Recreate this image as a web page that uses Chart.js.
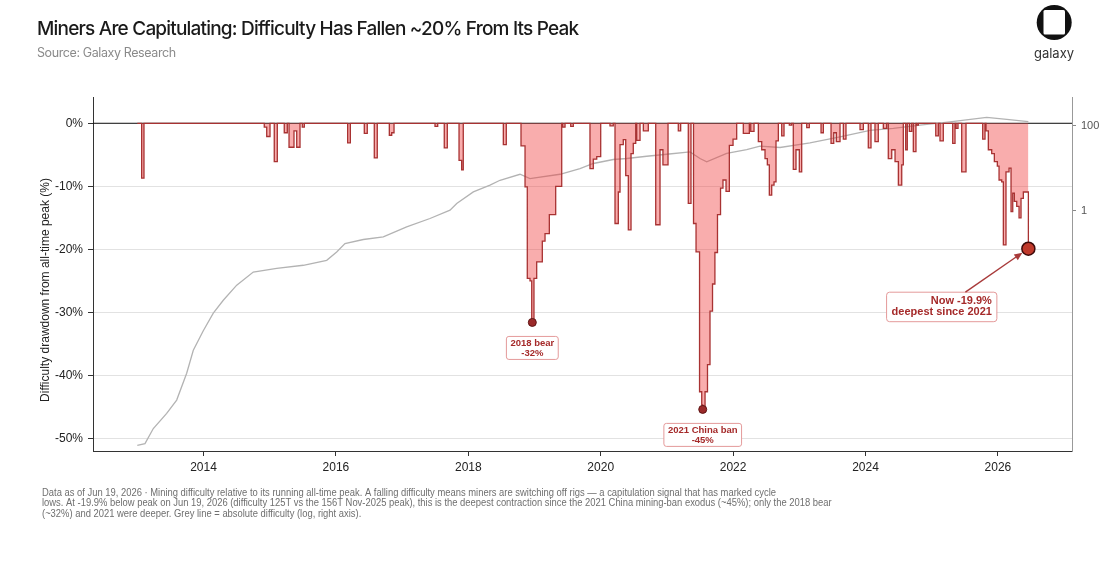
<!DOCTYPE html>
<html>
<head>
<meta charset="utf-8">
<script src="https://cdn.jsdelivr.net/npm/chart.js@4.4.1/dist/chart.umd.min.js"></script>
<style>
  html, body { margin: 0; padding: 0; background: #fff; }
  #wrap { width: 1100px; height: 576px; position: relative; }
</style>
</head>
<body>
<div id="wrap"><canvas id="chart"></canvas></div>
<script>
// drawdown from running all-time peak (%), step-post: each value holds until the next date
const ddYears = [
  2013.0, 2013.066, 2013.101,
  2014.918, 2014.955, 2015.005, 2015.069, 2015.115, 2015.22, 2015.266,
  2015.292, 2015.367, 2015.408, 2015.458, 2015.492, 2015.523,
  2016.178, 2016.218, 2016.429, 2016.474, 2016.58, 2016.625,
  2016.807, 2016.843, 2016.878,
  2017.497, 2017.538, 2017.637, 2017.683, 2017.86, 2017.9, 2017.924,
  2018.529, 2018.574,
  2018.796, 2018.857, 2018.891, 2018.932, 2018.958, 2018.992, 2019.033,
  2019.118, 2019.159, 2019.224, 2019.32, 2019.411,
  2019.426, 2019.461, 2019.547, 2019.586,
  2019.838, 2019.888, 2019.94, 2020.0,
  2020.14, 2020.19,
  2020.216, 2020.266, 2020.292, 2020.341, 2020.378, 2020.417, 2020.458, 2020.492, 2020.529,
  2020.544, 2020.594, 2020.644, 2020.719,
  2020.831, 2020.896, 2020.94, 2021.017,
  2021.172, 2021.208, 2021.323, 2021.364,
  2021.402, 2021.44, 2021.493, 2021.526, 2021.541, 2021.576, 2021.613, 2021.651,
  2021.689, 2021.725, 2021.764, 2021.81, 2021.847, 2021.893, 2021.943, 2021.999, 2022.054,
  2022.154, 2022.245, 2022.266, 2022.316,
  2022.381, 2022.432, 2022.482, 2022.517, 2022.547, 2022.583, 2022.618, 2022.648, 2022.683,
  2022.734, 2022.769, 2022.849, 2022.885,
  2022.909, 2022.95, 2023.0, 2023.036,
  2023.112, 2023.151, 2023.328, 2023.363,
  2023.479, 2023.52, 2023.559, 2023.615, 2023.665, 2023.705,
  2023.917, 2023.967, 2024.042, 2024.083, 2024.143, 2024.193, 2024.269, 2024.32,
  2024.344, 2024.396, 2024.446, 2024.496, 2024.547, 2024.571,
  2024.607, 2024.631, 2024.662, 2024.698, 2024.722, 2024.762, 2024.773, 2024.798,
  2025.061, 2025.1, 2025.125, 2025.175, 2025.317, 2025.352, 2025.367, 2025.397,
  2025.453, 2025.518, 2025.77, 2025.805,
  2025.82, 2025.855, 2025.906, 2025.946, 2025.991, 2026.017, 2026.057, 2026.082,
  2026.122, 2026.168, 2026.198, 2026.224, 2026.248, 2026.284, 2026.319, 2026.349,
  2026.384, 2026.46
];
const ddValues = [
  0, -8.7, 0,
  -0.6, -2.1, 0, -6.1, 0, -1.5, 0,
  -3.8, -1.2, -3.8, 0, -0.6, 0,
  -3.1, 0, -1.6, 0, -5.5, 0,
  -1.9, -1.5, 0,
  -0.5, 0, -3.9, 0, -5.9, -7.4, 0,
  -3.4, 0,
  -3.6, -10.1, -24.6, -25.0, -31.6, -24.6, -22.0,
  -18.7, -17.5, -14.5, -10.0, 0,
  -0.6, 0, -0.5, 0,
  -7.2, -5.7, -5.3, 0,
  -0.4, 0,
  -15.9, -10.9, -3.4, -2.6, -8.3, -16.9, -4.8, -3.2, 0,
  -2.7, 0, -1.2, 0,
  -16.1, -4.2, -6.6, 0,
  -1.2, 0, -12.7, 0,
  -15.9, -20.4, -42.6, -44.7, -45.4, -42.6, -38.3, -29.8,
  -25.5, -20.5, -14.5, -10.3, -9.0, -10.8, -3.5, -2.5, 0,
  -1.6, 0, -1.3, 0,
  -2.9, -4.2, -5.6, -6.6, -11.4, -9.8, -9.3, -2.8, 0,
  -2.0, 0, -0.3, 0,
  -7.3, -4.2, -7.7, 0,
  -0.7, 0, -1.5, 0,
  -3.2, -1.5, -2.9, 0, -2.5, 0,
  -1.0, 0, -3.9, 0, -2.9, 0, -0.8, 0,
  -5.6, -4.2, -6.1, -9.8, -6.6, 0,
  -4.2, 0, -1.3, 0, -4.5, 0, -0.3, 0,
  -2.0, 0, -2.8, 0, -3.2, 0, -0.8, 0,
  -7.7, 0, -2.5, 0,
  -1.2, -4.2, -4.8, -6.1, -6.8, -9.0, -9.3, -19.3,
  -7.7, -7.1, -14.0, -11.1, -12.4, -13.2, -15.0, -11.9,
  -10.9, -19.9
];

// absolute difficulty in T (right axis, log)
const diffYears = [
  2013.0, 2013.116, 2013.242, 2013.444, 2013.595, 2013.746, 2013.846, 2013.997,
  2014.148, 2014.299, 2014.502, 2014.752, 2015.106, 2015.508, 2015.861, 2016.012,
  2016.137, 2016.414, 2016.716, 2017.069, 2017.421, 2017.724, 2017.825, 2018.076,
  2018.328, 2018.479, 2018.781, 2018.932, 2019.033, 2019.385, 2019.687, 2019.888,
  2020.19, 2020.393, 2020.695, 2020.997, 2021.349, 2021.5, 2021.601, 2021.903,
  2022.205, 2022.406, 2022.708, 2023.161, 2023.614, 2024.068, 2024.42, 2024.823,
  2025.276, 2025.831, 2026.133, 2026.46
];
const diffValues = [
  3.0e-6, 3.3e-6, 7.5e-6, 1.7e-5, 3.5e-5, 1.5e-4, 5.2e-4, 1.5e-3,
  3.9e-3, 7.8e-3, 0.0177, 0.036, 0.044, 0.052, 0.068, 0.107,
  0.169, 0.21, 0.242, 0.416, 0.655, 1.03, 1.48, 2.77,
  4.0, 5.2, 7.2, 5.7, 6.0, 7.2, 9.8, 12.9,
  16.0, 16.9, 19.1, 21.3, 24.2, 16.9, 14.1, 22.2,
  27.5, 33, 30.7, 39.4, 54.5, 78, 86, 103,
  123, 156, 140, 125
];

const yearTicks = [2014, 2016, 2018, 2020, 2022, 2024, 2026];
const ddTicks = [0, -10, -20, -30, -40, -50];
const diffTicks = [1, 100];

// called-out troughs
const markerYears = [2018.967, 2021.541, 2026.46];
const markerValues = [-31.6, -45.4, -19.9];
const markerLabels = [['2018 bear', '-32%'], ['2021 China ban', '-45%'], ['Now -19.9%', 'deepest since 2021']];

const footLines = [
  'Data as of Jun 19, 2026 \u00b7 Mining difficulty relative to its running all-time peak. A falling difficulty means miners are switching off rigs \u2014 a capitulation signal that has marked cycle',
  'lows. At -19.9% below peak on Jun 19, 2026 (difficulty 125T vs the 156T Nov-2025 peak), this is the deepest contraction since the 2021 China mining-ban exodus (~45%); only the 2018 bear',
  '(~32%) and 2021 were deeper. Grey line = absolute difficulty (log, right axis).'
];

const RED_LINE = '#a83232';
const RED_FILL = 'rgba(240, 60, 60, 0.42)';
const LABEL_RED = '#a52a2a';

function roundBox(ctx, x, y, w, h, r) {
  ctx.beginPath();
  ctx.moveTo(x + r, y);
  ctx.arcTo(x + w, y, x + w, y + h, r);
  ctx.arcTo(x + w, y + h, x, y + h, r);
  ctx.arcTo(x, y + h, x, y, r);
  ctx.arcTo(x, y, x + w, y, r);
  ctx.closePath();
}

const extras = {
  id: 'extras',
  beforeDatasetsDraw(chart) {
    const { ctx, chartArea: a, scales } = chart;
    const y0 = scales.y.getPixelForValue(0);
    ctx.save();
    ctx.strokeStyle = '#111';
    ctx.lineWidth = 1;
    ctx.beginPath();
    ctx.moveTo(a.left, y0);
    ctx.lineTo(a.right, y0);
    ctx.stroke();
    ctx.restore();
  },
  afterDraw(chart) {
    const { ctx, scales } = chart;
    ctx.save();

    // title + source
    ctx.fillStyle = '#1a1a1a';
    ctx.font = '500 19px Inter';
    ctx.letterSpacing = '-0.8px';
    ctx.textAlign = 'left';
    ctx.textBaseline = 'alphabetic';
    ctx.fillText('Miners Are Capitulating: Difficulty Has Fallen ~20% From Its Peak', 37, 35);
    ctx.fillStyle = '#8a8a8a';
    ctx.font = '12.5px Inter';
    ctx.letterSpacing = '-0.4px';
    ctx.fillText('Source: Galaxy Research', 37, 57);
    ctx.letterSpacing = '0px';

    // logo
    ctx.fillStyle = '#111';
    ctx.beginPath();
    ctx.arc(1054.2, 22.5, 17.5, 0, Math.PI * 2);
    ctx.fill();
    ctx.fillStyle = '#fff';
    roundBox(ctx, 1043.5, 10, 21.5, 24.5, 1.5);
    ctx.fill();
    ctx.fillStyle = '#333';
    ctx.font = '13px Inter';
    ctx.textAlign = 'center';
    ctx.fillText('galaxy', 1054, 58);

    // y-axis title
    ctx.save();
    ctx.translate(46, 290);
    ctx.rotate(-Math.PI / 2);
    ctx.fillStyle = '#222';
    ctx.font = '12px "Liberation Sans"';
    ctx.textAlign = 'center';
    ctx.textBaseline = 'middle';
    ctx.fillText('Difficulty drawdown from all-time peak (%)', 0, 0);
    ctx.restore();

    // footnote, narrowed to the reference line length
    ctx.save();
    ctx.fillStyle = '#6f6f6f';
    ctx.font = '10px "Liberation Sans"';
    ctx.textAlign = 'left';
    ctx.textBaseline = 'alphabetic';
    const k = 734 / ctx.measureText(footLines[0]).width;
    ctx.translate(42, 0);
    ctx.scale(k, 1);
    footLines.forEach((t, i) => ctx.fillText(t, 0, 495.5 + i * 10.8));
    ctx.restore();

    // trough callouts
    const px = markerYears.map(v => scales.x.getPixelForValue(v));
    const py = markerValues.map(v => scales.y.getPixelForValue(v));
    ctx.lineWidth = 1;
    for (let i = 0; i < 2; i++) {
      ctx.font = 'bold 9.5px "Liberation Sans"';
      const w = Math.max(...markerLabels[i].map(t => ctx.measureText(t).width)) + 8;
      const top = py[i] + 14;
      roundBox(ctx, px[i] - w / 2, top, w, 23, 2.5);
      ctx.fillStyle = '#fff';
      ctx.fill();
      ctx.strokeStyle = '#e49a9a';
      ctx.stroke();
      ctx.fillStyle = LABEL_RED;
      ctx.textAlign = 'center';
      ctx.textBaseline = 'middle';
      markerLabels[i].forEach((t, j) => ctx.fillText(t, px[i], top + 6.5 + j * 10));
    }

    // "now" callout with arrow
    const nx = px[2], ny = py[2];
    ctx.font = 'bold 11px "Liberation Sans"';
    const lab = markerLabels[2];
    const w = Math.max(...lab.map(t => ctx.measureText(t).width)) + 10;
    const right = nx - 31.5, top = ny + 43.5, h = 29.5;
    roundBox(ctx, right - w, top, w, h, 3);
    ctx.fillStyle = '#fff';
    ctx.fill();
    ctx.strokeStyle = '#e49a9a';
    ctx.stroke();
    ctx.fillStyle = LABEL_RED;
    ctx.textAlign = 'right';
    ctx.textBaseline = 'middle';
    lab.forEach((t, j) => ctx.fillText(t, right - 5, top + 8.5 + j * 11.5));

    const sx = right - 31.5, sy = top;
    const ex = nx - 6, ey = ny + 4;
    const ang = Math.atan2(ey - sy, ex - sx);
    ctx.strokeStyle = '#a83a3a';
    ctx.lineWidth = 1.4;
    ctx.beginPath();
    ctx.moveTo(sx, sy);
    ctx.lineTo(ex - 5 * Math.cos(ang), ey - 5 * Math.sin(ang));
    ctx.stroke();
    ctx.fillStyle = '#a83a3a';
    ctx.beginPath();
    ctx.moveTo(ex, ey);
    ctx.lineTo(ex - 8 * Math.cos(ang) + 3.5 * Math.sin(ang), ey - 8 * Math.sin(ang) - 3.5 * Math.cos(ang));
    ctx.lineTo(ex - 8 * Math.cos(ang) - 3.5 * Math.sin(ang), ey - 8 * Math.sin(ang) + 3.5 * Math.cos(ang));
    ctx.closePath();
    ctx.fill();

    ctx.restore();
  }
};

Chart.defaults.font.family = '"Liberation Sans", Arial, sans-serif';
Chart.defaults.font.size = 12;
Chart.defaults.color = '#222';

new Chart(document.getElementById('chart'), {
  type: 'line',
  data: {
    datasets: [
      {
        label: 'Markers',
        data: markerYears.map((x, i) => ({ x, y: markerValues[i] })),
        yAxisID: 'y',
        showLine: false,
        pointRadius: [4, 4, 6.5],
        pointBackgroundColor: ['#9b2a2a', '#9b2a2a', '#c0392b'],
        pointBorderColor: ['#5e1414', '#5e1414', '#3d0a0a'],
        pointBorderWidth: [1, 1, 1.5],
        order: 0
      },
      {
        label: 'Drawdown',
        data: ddYears.map((x, i) => ({ x, y: ddValues[i] })),
        yAxisID: 'y',
        stepped: 'before',
        borderColor: RED_LINE,
        borderWidth: 1.3,
        backgroundColor: RED_FILL,
        fill: 'origin',
        pointRadius: 0,
        order: 1
      },
      {
        label: 'Difficulty',
        data: diffYears.map((x, i) => ({ x, y: diffValues[i] })),
        yAxisID: 'y2',
        borderColor: '#b3b3b3',
        borderWidth: 1.3,
        pointRadius: 0,
        fill: false,
        order: 2
      }
    ]
  },
  options: {
    responsive: true,
    maintainAspectRatio: false,
    animation: false,
    layout: { padding: { top: 97, left: 0, right: 0, bottom: 0 } },
    plugins: { legend: { display: false }, tooltip: { enabled: false } },
    scales: {
      x: {
        type: 'linear',
        min: 2012.331,
        max: 2027.119,
        afterBuildTicks: s => { s.ticks = yearTicks.map(v => ({ value: v })); },
        afterFit: s => { s.height = 125; },
        ticks: { callback: v => String(v), padding: 4, color: '#222', maxRotation: 0 },
        grid: { drawOnChartArea: false, tickLength: 5, color: '#333' },
        border: { color: '#333' }
      },
      y: {
        position: 'left',
        min: -52.0,
        max: 4.17,
        afterBuildTicks: s => { s.ticks = ddTicks.map(v => ({ value: v })); },
        afterFit: s => { s.width = 93; },
        ticks: { callback: v => v + '%', padding: 5, color: '#222' },
        grid: { color: '#e2e2e2', tickColor: '#333', tickLength: 5 },
        border: { color: '#333' }
      },
      y2: {
        type: 'logarithmic',
        position: 'right',
        min: 2.22e-6,
        max: 473,
        afterBuildTicks: s => { s.ticks = diffTicks.map(v => ({ value: v })); },
        afterFit: s => { s.width = 28; },
        ticks: { callback: v => String(v), padding: 5, color: '#555', font: { size: 11 } },
        grid: { drawOnChartArea: false, tickColor: '#888', tickLength: 4 },
        border: { color: '#999' }
      }
    }
  },
  plugins: [extras]
});
</script>
</body>
</html>
